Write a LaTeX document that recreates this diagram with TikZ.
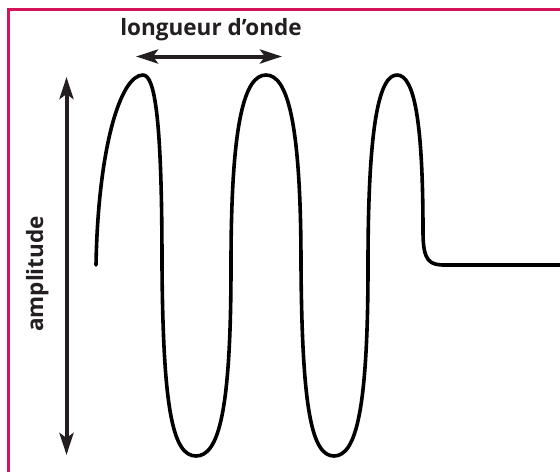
\documentclass[tikz,border=0pt]{standalone}
\usepackage{fontspec}
\setmainfont{Open Sans}
\usetikzlibrary{arrows.meta}
\definecolor{ink}{HTML}{231F20}
\definecolor{framecol}{HTML}{D4145A}
\begin{document}
\begin{tikzpicture}[x=1pt,y=-1pt,
  wave/.style={line width=3.6pt, black, line join=round, line cap=round},
  dimarrow/.style={line width=4pt, ink, {Stealth[length=22pt,width=14pt,inset=5pt]}-{Stealth[length=22pt,width=14pt,inset=5pt]}},
  lbl/.style={font=\fontsize{22.5}{27}\selectfont\bfseries, text=ink, inner sep=0pt}]
\useasboundingbox (0,0) rectangle (560,472);
\fill[white] (0,0) rectangle (560,472);
\draw[framecol, line width=2.5pt] (8.5,472) -- (8.5,9.5) -- (560,9.5);
% labels
\node[lbl, anchor=base] (lo) at (211,35) {longueur d’onde};
\node[lbl, rotate=90, anchor=base] (am) at (43,274) {amplitude};
% arrows
\coordinate (hl) at (136,56.5);
\coordinate (hr) at (282,56.5);
\coordinate (vt) at (66.5,77);
\coordinate (vb) at (66.5,455);
\draw[dimarrow] (hl) -- (hr);
\draw[dimarrow] (vt) -- (vb);
% wave
\coordinate (s) at (96,265);
\coordinate (p1) at (143,75);
\coordinate (r1) at (162,265);
\coordinate (t1) at (196,456);
\coordinate (l2) at (231,265);
\coordinate (p2) at (266,75);
\coordinate (r2) at (301,265);
\coordinate (t2) at (334,456);
\coordinate (l3) at (368,265);
\coordinate (p3) at (397,75);
\coordinate (c3) at (423,232);
\coordinate (h0) at (445,265);
\coordinate (e) at (560,265);
\draw[wave] (s) .. controls (98,150) and (120,75) .. (p1)
  .. controls (155,75) and (162,120) .. (r1)
  .. controls (163,410) and (173,456) .. (t1)
  .. controls (219,456) and (231,410) .. (l2)
  .. controls (231,120) and (245,75) .. (p2)
  .. controls (287,75) and (301,120) .. (r2)
  .. controls (302,410) and (312,456) .. (t2)
  .. controls (356,456) and (368,410) .. (l3)
  .. controls (368,120) and (380,75) .. (p3)
  .. controls (414,75) and (423,120) .. (c3)
  .. controls (423,262) and (430,265) .. (h0)
  -- (e);
\end{tikzpicture}
\end{document}
